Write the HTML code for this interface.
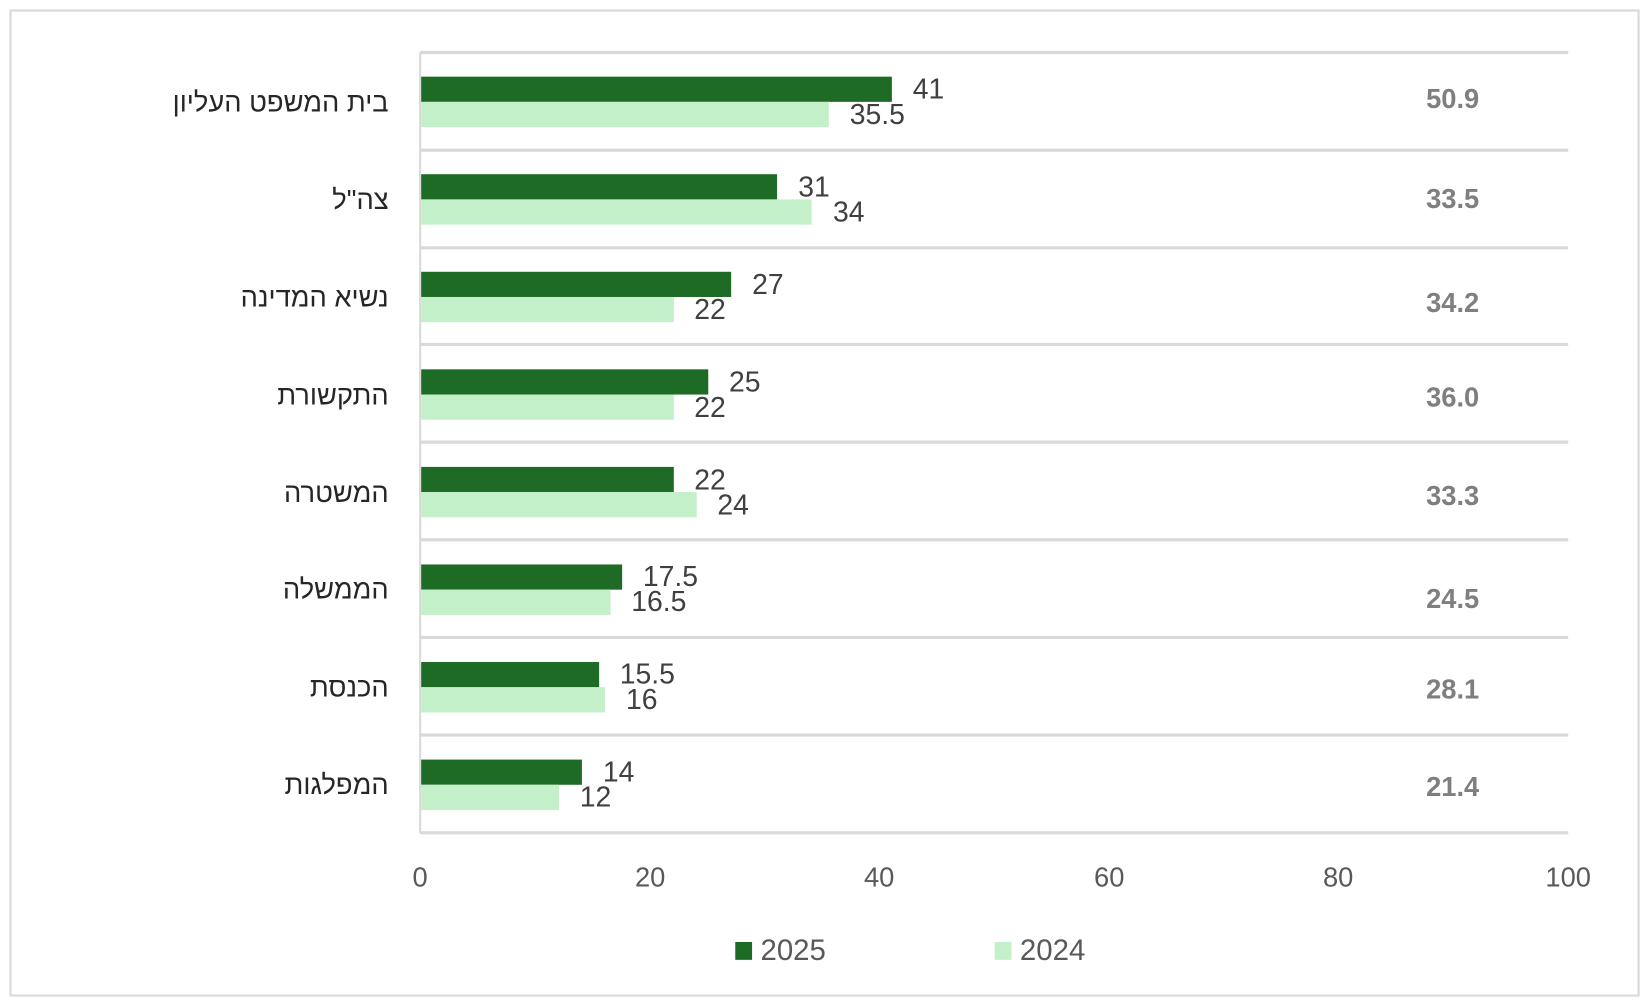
<!DOCTYPE html>
<html><head><meta charset="utf-8"><style>
html,body{margin:0;padding:0;background:#fff;}
svg{display:block;}
text{font-family:"Liberation Sans",sans-serif;}
</style></head><body>
<svg width="1647" height="1005" viewBox="0 0 1568 957" preserveAspectRatio="none" xmlns="http://www.w3.org/2000/svg">
<rect x="0" y="0" width="1568" height="957" fill="#fff"/>
<rect x="10" y="10" width="1550" height="938" fill="none" stroke="#d9d9d9" stroke-width="2"/>
<g stroke="#d9d9d9" stroke-width="3">
<line x1="400" y1="50" x2="1493" y2="50"/><line x1="400" y1="143" x2="1493" y2="143"/>
<line x1="400" y1="236" x2="1493" y2="236"/><line x1="400" y1="328" x2="1493" y2="328"/>
<line x1="400" y1="421" x2="1493" y2="421"/><line x1="400" y1="514" x2="1493" y2="514"/>
<line x1="400" y1="607" x2="1493" y2="607"/><line x1="400" y1="700" x2="1493" y2="700"/>
<line x1="400" y1="793" x2="1493" y2="793"/>
</g>
<line x1="400" y1="50" x2="400" y2="793" stroke="#d9d9d9" stroke-width="2"/>
<g fill="#1e6b26">
<rect x="401" y="73" width="448.1" height="24"/>
<rect x="401" y="165.9" width="338.8" height="24"/>
<rect x="401" y="258.8" width="295.1" height="24"/>
<rect x="401" y="351.7" width="273.3" height="24"/>
<rect x="401" y="444.6" width="240.5" height="24"/>
<rect x="401" y="537.5" width="191.3" height="24"/>
<rect x="401" y="630.4" width="169.4" height="24"/>
<rect x="401" y="723.3" width="153" height="24"/>
</g>
<g fill="#c3efc9">
<rect x="401" y="97" width="388" height="24"/>
<rect x="401" y="189.9" width="371.6" height="24"/>
<rect x="401" y="282.8" width="240.5" height="24"/>
<rect x="401" y="375.7" width="240.5" height="24"/>
<rect x="401" y="468.6" width="262.3" height="24"/>
<rect x="401" y="561.5" width="180.3" height="24"/>
<rect x="401" y="654.4" width="174.9" height="24"/>
<rect x="401" y="747.3" width="131.2" height="24"/>
</g>
<g font-size="27" fill="#404040">
<text x="869" y="94">41</text><text x="809" y="118">35.5</text>
<text x="760" y="187">31</text><text x="793" y="211">34</text>
<text x="716" y="280">27</text><text x="661" y="304">22</text>
<text x="694" y="373">25</text><text x="661" y="397">22</text>
<text x="661" y="466">22</text><text x="683" y="490">24</text>
<text x="612" y="558">17.5</text><text x="601" y="582">16.5</text>
<text x="590" y="651">15.5</text><text x="596" y="675">16</text>
<text x="574" y="744">14</text><text x="552" y="768">12</text>
</g>
<g font-size="26" fill="#262626" text-anchor="end" font-family="Liberation Sans, DejaVu Sans, sans-serif">
<text x="370" y="106">בית המשפט העליון</text>
<text x="370" y="199">צה"ל</text>
<text x="370" y="292">נשיא המדינה</text>
<text x="370" y="385">התקשורת</text>
<text x="370" y="478">המשטרה</text>
<text x="370" y="570">הממשלה</text>
<text x="370" y="663">הכנסת</text>
<text x="370" y="756">המפלגות</text>
</g>
<g font-size="26" font-weight="bold" fill="#7f7f7f" text-anchor="middle">
<text x="1383" y="103">50.9</text><text x="1383" y="198">33.5</text>
<text x="1383" y="297">34.2</text><text x="1383" y="387">36.0</text>
<text x="1383" y="481">33.3</text><text x="1383" y="579">24.5</text>
<text x="1383" y="665">28.1</text><text x="1383" y="758">21.4</text>
</g>
<g font-size="26" fill="#595959" text-anchor="middle">
<text x="400" y="844">0</text><text x="619" y="844">20</text><text x="837" y="844">40</text>
<text x="1056" y="844">60</text><text x="1274" y="844">80</text><text x="1493" y="844">100</text>
</g>
<rect x="700" y="897" width="16" height="17" fill="#1e6b26"/>
<text x="724" y="914" font-size="28" fill="#595959">2025</text>
<rect x="947" y="897" width="16" height="17" fill="#c3efc9"/>
<text x="971" y="914" font-size="28" fill="#595959">2024</text>
</svg>
</body></html>
